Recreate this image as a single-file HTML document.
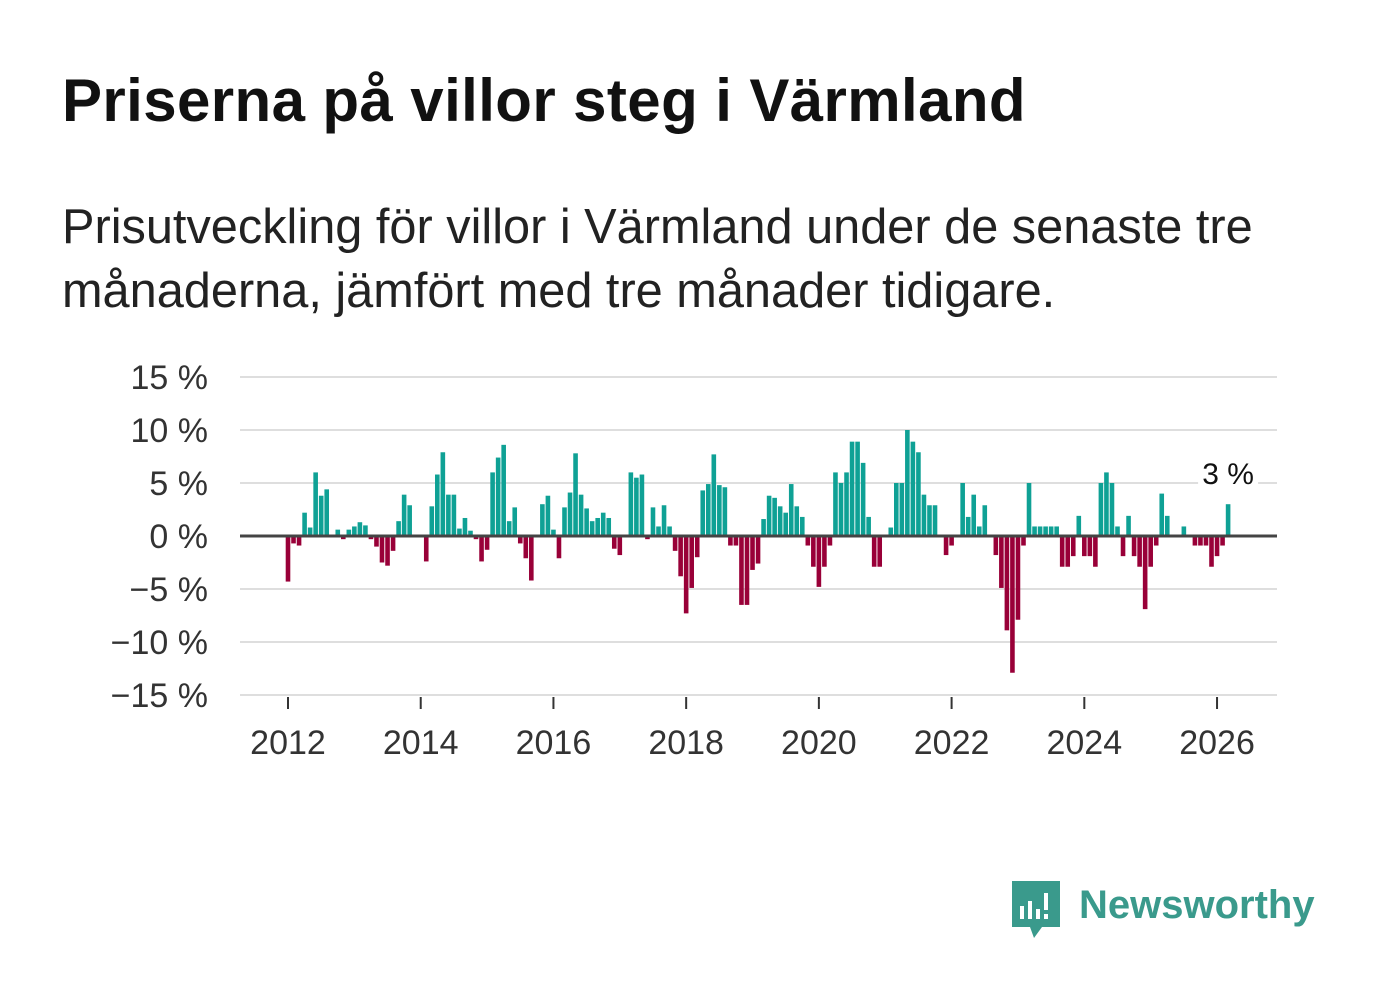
<!DOCTYPE html>
<html><head><meta charset="utf-8">
<style>
body{margin:0;background:#fff;width:1382px;height:999px;overflow:hidden;font-family:"Liberation Sans",sans-serif;}
#title{position:absolute;left:62px;top:66px;font-size:60px;font-weight:bold;color:#111;margin:0;letter-spacing:0.4px;white-space:nowrap}
#sub{position:absolute;left:62px;top:195px;font-size:48.7px;line-height:64px;color:#222;width:1310px;white-space:nowrap}
svg{position:absolute;left:0;top:0}
</style></head><body>
<h1 id="title">Priserna på villor steg i Värmland</h1>
<div id="sub">Prisutveckling för villor i Värmland under de senaste tre<br>månaderna, jämfört med tre månader tidigare.</div>
<svg id="chart" width="1382" height="999"></svg>
<script>
const startYear = 2012;
const values = [-4.3,-0.7,-0.9,2.2,0.8,6.0,3.8,4.4,0,0.6,-0.3,0.6,
0.9,1.3,1.0,-0.3,-1.0,-2.5,-2.8,-1.4,1.4,3.9,2.9,0,
0,-2.4,2.8,5.8,7.9,3.9,3.9,0.7,1.7,0.5,-0.3,-2.4,
-1.3,6.0,7.4,8.6,1.4,2.7,-0.7,-2.1,-4.2,0,3.0,3.8,
0.6,-2.1,2.7,4.1,7.8,3.9,2.6,1.4,1.7,2.2,1.7,-1.2,
-1.8,0,6.0,5.5,5.8,-0.3,2.7,0.9,2.9,0.9,-1.4,-3.8,
-7.3,-4.9,-2.0,4.3,4.9,7.7,4.8,4.6,-0.9,-0.9,-6.5,-6.5,
-3.2,-2.6,1.6,3.8,3.6,2.8,2.2,4.9,2.8,1.8,-0.9,-2.9,
-4.8,-2.9,-0.9,6.0,5.0,6.0,8.9,8.9,6.9,1.8,-2.9,-2.9,
0,0.8,5.0,5.0,10.0,8.9,7.9,3.9,2.9,2.9,0,-1.8,
-0.9,0,5.0,1.8,3.9,0.9,2.9,0,-1.8,-4.9,-8.9,-12.9,
-7.9,-0.9,5.0,0.9,0.9,0.9,0.9,0.9,-2.9,-2.9,-1.9,1.9,
-1.9,-1.9,-2.9,5.0,6.0,5.0,0.9,-1.9,1.9,-1.9,-2.9,-6.9,
-2.9,-0.9,4.0,1.9,0,0,0.9,0,-0.9,-0.9,-0.9,-2.9,
-1.9,-0.9,3.0];
const yTicks = [15,10,5,0,-5,-10,-15];
const yTickLabels = ["15 %","10 %","5 %","0 %","\u22125 %","\u221210 %","\u221215 %"];
const xTicks = [2012,2014,2016,2018,2020,2022,2024,2026];
const lastLabel = "3 %";

const NS="http://www.w3.org/2000/svg";
const svg=document.getElementById('chart');
const X0=288, YW=66.36, Y0=536, PX=10.6, L=240, R=1277;
const xs=t=>X0+(t-startYear)*YW;
const ys=v=>Y0-v*PX;
function mk(tag,attrs,parent){const e=document.createElementNS(NS,tag);for(const k in attrs)e.setAttribute(k,attrs[k]);(parent||svg).appendChild(e);return e;}

yTicks.forEach((v,i)=>{
  if(v!==0){const g=mk('line',{x1:L,x2:R,y1:ys(v),y2:ys(v),stroke:'#dedede','stroke-width':2});
  
  }
  const t=mk('text',{x:208,y:ys(v)+12,'text-anchor':'end','font-size':34,fill:'#333','font-family':'Liberation Sans, sans-serif'});
  t.textContent=yTickLabels[i];
  
  
});
xTicks.forEach(y=>{
  const tk=mk('line',{x1:xs(y),x2:xs(y),y1:697,y2:709,stroke:'#333','stroke-width':2});
  
  
  const t=mk('text',{x:xs(y),y:754,'text-anchor':'middle','font-size':34,fill:'#333','font-family':'Liberation Sans, sans-serif'});
  t.textContent=y;
  
  
});
values.forEach((v,i)=>{
  const x=xs(startYear+i/12);
  const y=Math.min(ys(v),Y0), h=Math.abs(ys(v)-Y0);
  const b=mk('rect',{x:x-2.3,y:y,width:4.6,height:h,fill:v>=0?'#0fa195':'#990038'});
  
  
});
const z=mk('line',{x1:L,x2:R,y1:Y0,y2:Y0,stroke:'#444','stroke-width':3});


const li=values.length-1, lx=xs(startYear+li/12);
const bg=mk('rect',{x:lx-30,y:ys(values[li])-48,width:60,height:36,fill:'#fff'});


const an=mk('text',{x:lx,y:ys(values[li])-20,'text-anchor':'middle','font-size':30,fill:'#111','font-family':'Liberation Sans, sans-serif'});
an.textContent=lastLabel;


</script>
<svg width="1382" height="999">
<path d="M1012 881 h48 v46 h-18 l-8 11 l-4 -11 h-18 z" fill="#3a9a8c"/>
<rect x="1020" y="906" width="4" height="13" fill="#fff"/>
<rect x="1028" y="901" width="4" height="18" fill="#fff"/>
<rect x="1036" y="909" width="4" height="10" fill="#fff"/>
<rect x="1044" y="893" width="4" height="17" fill="#fff"/>
<rect x="1044" y="914" width="4" height="5" fill="#fff"/>
<text x="1079" y="918" font-size="40" font-weight="bold" fill="#3a9a8c" font-family="Liberation Sans, sans-serif">Newsworthy</text>
</svg>
</body></html>
